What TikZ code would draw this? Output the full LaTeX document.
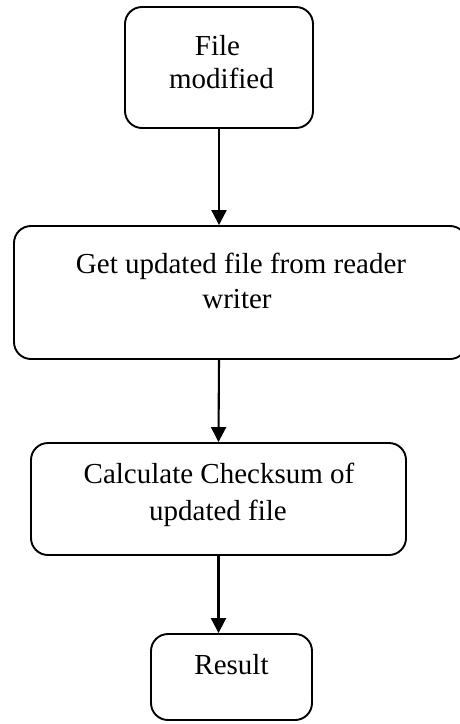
\documentclass[tikz,border=0pt]{standalone}
\usepackage{fontspec}
\setmainfont{Liberation Serif}
\usetikzlibrary{arrows.meta}
\begin{document}
\begin{tikzpicture}[x=1pt,y=-1pt,
  flowbox/.style={draw, line width=1.9pt, rounded corners=17pt, inner sep=0pt},
  txt/.style={anchor=base, inner sep=0pt, font=\fontsize{29}{34}\selectfont},
  flow/.style={line width=2.1pt, -{Triangle[width=15pt,length=15pt]}}]
\useasboundingbox (0,0) rectangle (459,724);

% process boxes
\node[flowbox, minimum width=188pt, minimum height=121pt] (b1) at (219,67.5) {};
\node[flowbox, minimum width=453pt, minimum height=133pt] (b2) at (240.5,292.5) {};
\node[flowbox, minimum width=375pt, minimum height=112pt] (b3) at (218.5,499) {};
\node[flowbox, minimum width=161pt, minimum height=86pt] (b4) at (231.5,677) {};

% box texts
\node[txt] (t1a) at (217.5,55) {File};
\node[txt] (t1b) at (221.5,88) {modified};
\node[txt] (t2a) at (241,273) {Get updated file from reader};
\node[txt] (t2b) at (237,308) {writer};
\node[txt] (t3a) at (219,483) {Calculate Checksum of};
\node[txt] (t3b) at (218,520) {updated file};
\node[txt] (t4a) at (231.5,674) {Result};

% connectors
\draw[flow] (b1.south) -- (b1.south |- b2.north);
\draw[flow] (b1.south |- b2.south) -- (b3.north);
\draw[flow] (b3.south) -- (b3.south |- b4.north);
\end{tikzpicture}
\end{document}
